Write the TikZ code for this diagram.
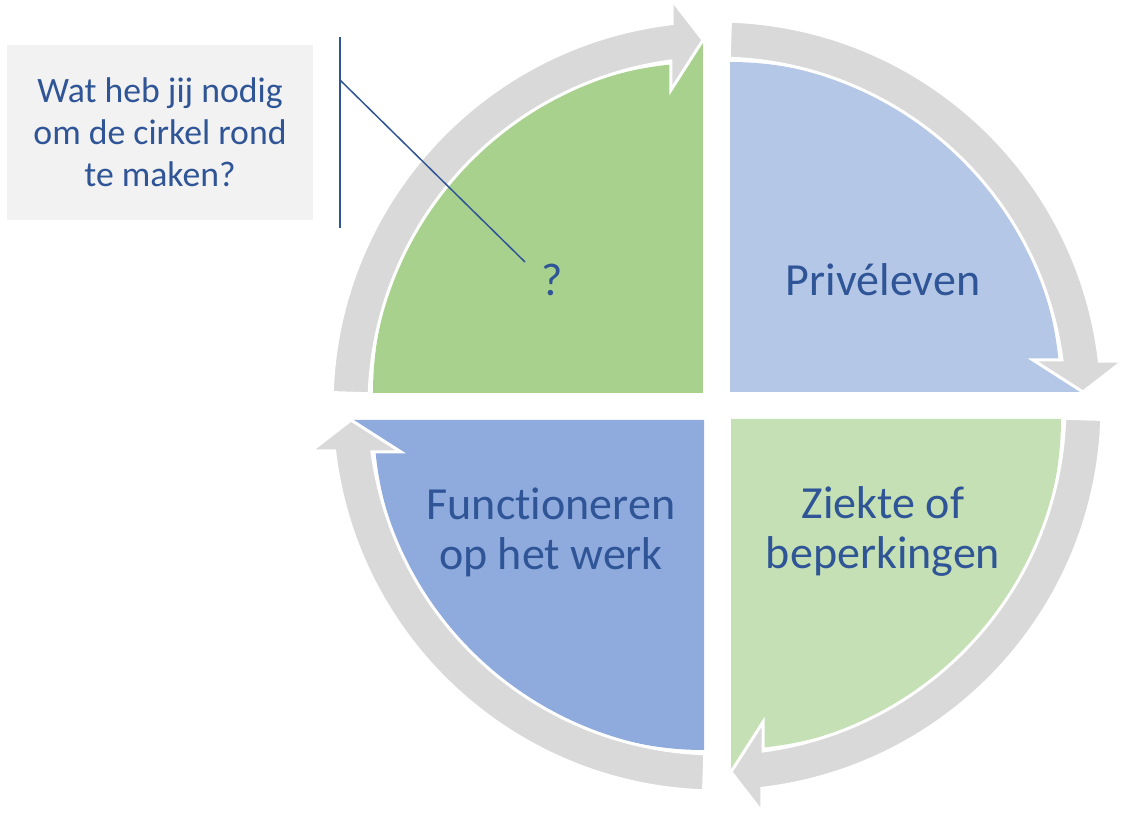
\documentclass[tikz,border=0pt]{standalone}
\usepackage{fontspec}
\setmainfont{Carlito}[Ligatures=NoCommon]
\usepackage{xcolor}
\definecolor{ringgray}{HTML}{D9D9D9}
\definecolor{privblue}{HTML}{B4C7E7}
\definecolor{workblue}{HTML}{8FAADC}
\definecolor{askgreen}{HTML}{A9D18E}
\definecolor{illgreen}{HTML}{C5E0B4}
\definecolor{textblue}{HTML}{2F5597}
\definecolor{boxgray}{HTML}{F2F2F2}
\usepackage{tikz}
\usetikzlibrary{positioning}

\tikzset{
  quadlabel/.style={text=textblue, font=\fontsize{46}{50}\selectfont, align=center, inner sep=0pt},
  calloutbox/.style={fill=boxgray, minimum width=306pt, minimum height=175pt, text=textblue,
    font=\fontsize{35.7}{42}\selectfont, align=center},
  accentline/.style={draw=textblue, line width=1.5pt}
}

\begin{document}
\begin{tikzpicture}[x=1pt, y=1pt]
  \useasboundingbox (-717, -407) rectangle (407, 406);
  % quarter pieces, each with the small wedge under the arrow tip
  \foreach \rot/\col in {0/privblue, 90/askgreen, 180/workblue, 270/illgreen}
    \fill[fill=\col, rotate=\rot] (13, 14) -- (13, 344) arc[start angle=90, end angle=0, radius=330] -- cycle
      (316, 14) -- (316, 46) -- (366, 14) -- cycle;
  % gray ring arrows
  \foreach \rot in {0, 90, 180, 270}
    \filldraw[fill=ringgray, draw=white, line width=3pt, rotate=\rot]
      (88:385) arc[start angle=88, end angle=6.7, radius=385] -- (406, 45) -- (366, 14)
      -- (316, 46) -- (345, 46) arc[start angle=7.6, end angle=88, radius=348] -- cycle;

  \node[quadlabel, anchor=base] (ask-label) at (-165, 110) {?};
  \node[quadlabel, anchor=base] (priv-label) at (166, 110) {Privéleven};
  \node[quadlabel] (work-label) at (-166, -126) {Functioneren\\op het werk};
  \node[quadlabel] (ill-label) at (166, -125) {Ziekte of\\beperkingen};

  \node[calloutbox] (callout-box) at (-557, 273.5) {Wat heb jij nodig\\om de cirkel rond\\te maken?};
  \coordinate (bar-top) at (-377, 369);
  \coordinate (bar-bottom) at (-377, 178);
  \coordinate (bar-knee) at (-377, 326);
  \coordinate (pointer-end) at (-192, 144);
  \draw[accentline] (bar-top) -- (bar-bottom);
  \draw[accentline] (bar-knee) -- (pointer-end);
\end{tikzpicture}
\end{document}
